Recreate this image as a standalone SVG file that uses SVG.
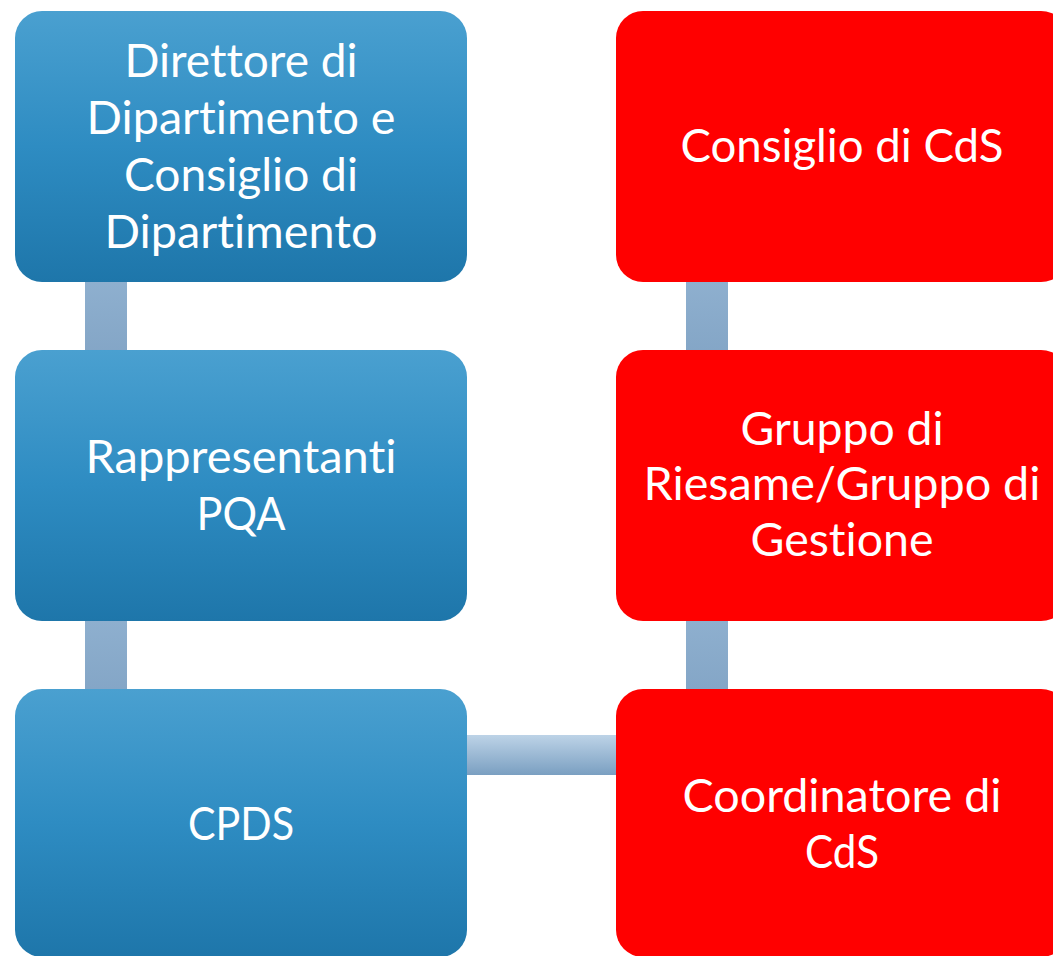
<svg xmlns="http://www.w3.org/2000/svg" width="1053" height="956" viewBox="0 0 1053 956">
<defs>
<linearGradient id="gBlue" x1="0" y1="0" x2="0" y2="1">
<stop offset="0" stop-color="#4AA0D0"/>
<stop offset="0.5" stop-color="#2E8CC2"/>
<stop offset="1" stop-color="#1E76AA"/>
</linearGradient>
<linearGradient id="gV" x1="0" y1="0" x2="0" y2="1">
<stop offset="0" stop-color="#90B1D0"/>
<stop offset="1" stop-color="#82A4C5"/>
</linearGradient>
<linearGradient id="gH" x1="0" y1="0" x2="0" y2="1">
<stop offset="0" stop-color="#BDD3E7"/>
<stop offset="1" stop-color="#7A9FC1"/>
</linearGradient>
</defs>
<style>
.blue{fill:url(#gBlue)}
.red{fill:#FF0000}
.t{font-family:Lato,"Open Sans","Liberation Sans",sans-serif;font-size:46px;fill:#FFFFFF;text-anchor:middle;font-variant-ligatures:none;font-feature-settings:"liga" 0,"clig" 0}
</style>
<rect width="1053" height="956" fill="#FFFFFF"/>
<g id="connectors">
<rect x="85" y="270" width="42" height="95" fill="url(#gV)"/>
<rect x="85" y="608" width="42" height="95" fill="url(#gV)"/>
<rect x="686" y="270" width="42" height="95" fill="url(#gV)"/>
<rect x="686" y="608" width="42" height="95" fill="url(#gV)"/>
<rect x="455" y="735" width="175" height="40" fill="url(#gH)"/>
</g>
<g id="n1">
<rect class="blue" x="15" y="11" width="452" height="271" rx="27"/>
<text class="t" x="241" y="77" textLength="233" lengthAdjust="spacingAndGlyphs">Direttore di</text>
<text class="t" x="241" y="134" textLength="309" lengthAdjust="spacingAndGlyphs">Dipartimento e</text>
<text class="t" x="241" y="191" textLength="234" lengthAdjust="spacingAndGlyphs">Consiglio di</text>
<text class="t" x="241" y="248" textLength="273" lengthAdjust="spacingAndGlyphs">Dipartimento</text>
</g>
<g id="n2">
<rect class="blue" x="15" y="350" width="452" height="271" rx="27"/>
<text class="t" x="241" y="473" textLength="311" lengthAdjust="spacingAndGlyphs">Rappresentanti</text>
<text class="t" x="241" y="530" textLength="89" lengthAdjust="spacingAndGlyphs">PQA</text>
</g>
<g id="n3">
<rect class="blue" x="15" y="689" width="452" height="268" rx="27"/>
<text class="t" x="241" y="840" textLength="106" lengthAdjust="spacingAndGlyphs">CPDS</text>
</g>
<g id="n4">
<rect class="red" x="616" y="11" width="452" height="271" rx="27"/>
<text class="t" x="842" y="162" textLength="323" lengthAdjust="spacingAndGlyphs">Consiglio di CdS</text>
</g>
<g id="n5">
<rect class="red" x="616" y="350" width="452" height="271" rx="27"/>
<text class="t" x="842" y="445" textLength="203" lengthAdjust="spacingAndGlyphs">Gruppo di</text>
<text class="t" x="842" y="500" textLength="397" lengthAdjust="spacingAndGlyphs">Riesame/Gruppo di</text>
<text class="t" x="842" y="556" textLength="183" lengthAdjust="spacingAndGlyphs">Gestione</text>
</g>
<g id="n6">
<rect class="red" x="616" y="689" width="452" height="268" rx="27"/>
<text class="t" x="842" y="812" textLength="319" lengthAdjust="spacingAndGlyphs">Coordinatore di</text>
<text class="t" x="842" y="868" textLength="74" lengthAdjust="spacingAndGlyphs">CdS</text>
</g>
</svg>
